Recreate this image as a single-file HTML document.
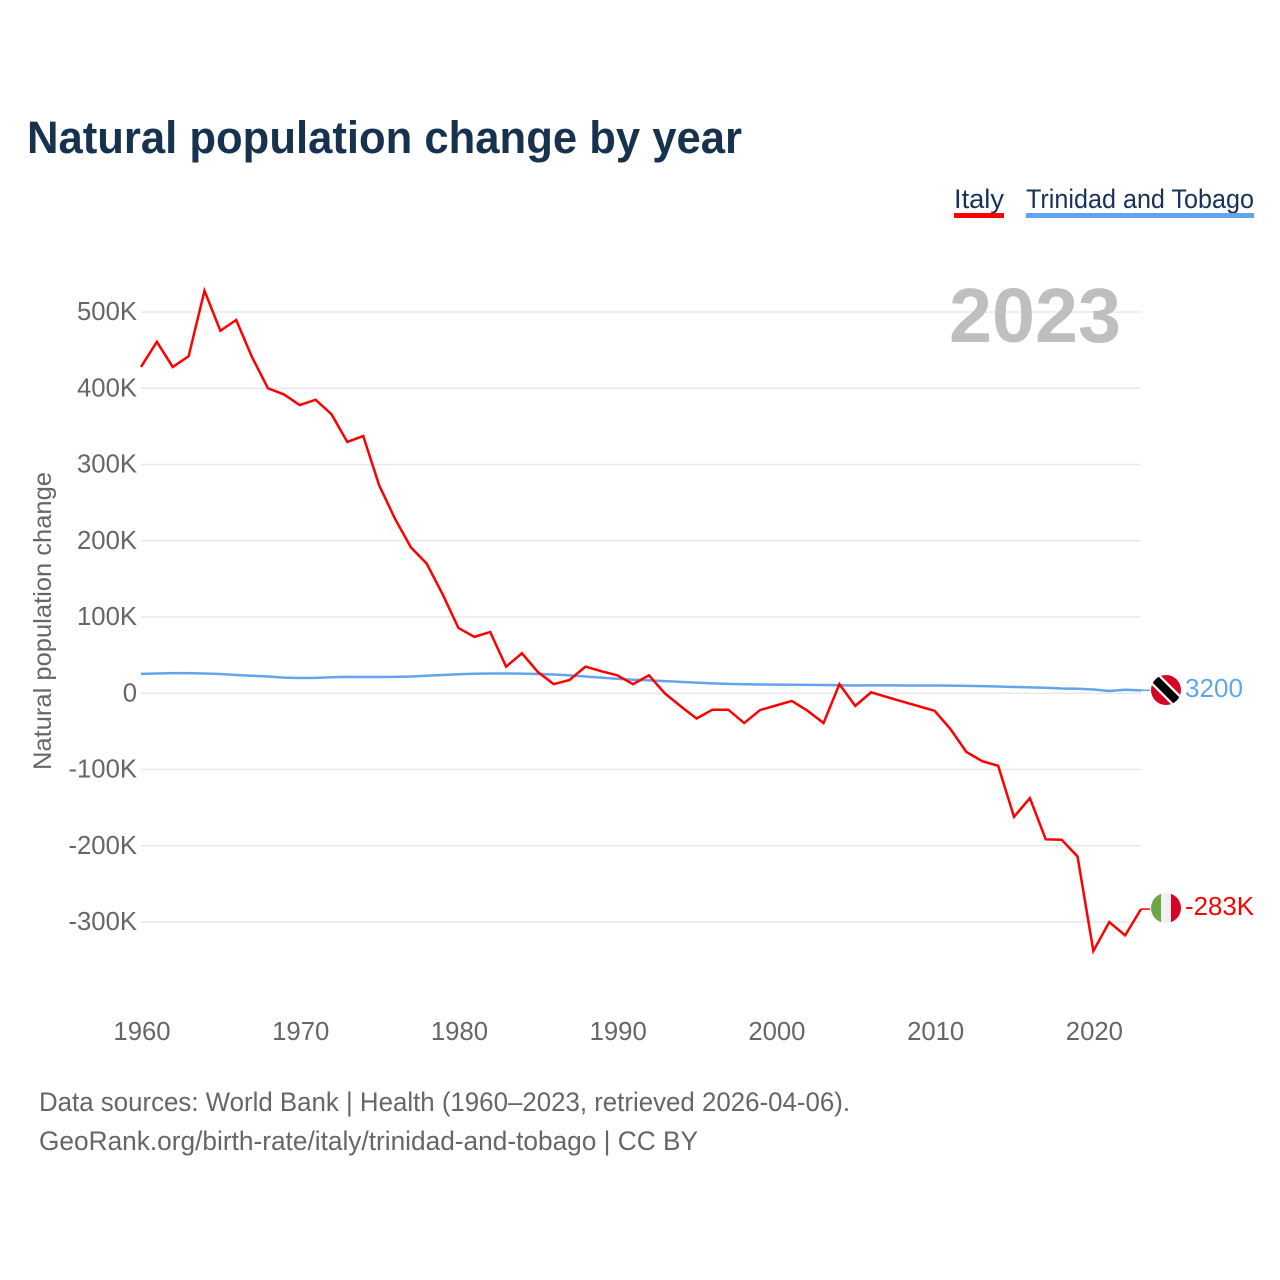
<!DOCTYPE html>
<html lang="en">
<head>
<meta charset="utf-8">
<title>Natural population change by year</title>
<style>
html,body{margin:0;padding:0;background:#fff;width:1280px;height:1280px;overflow:hidden}
svg{display:block;font-family:"Liberation Sans",sans-serif}
</style>
</head>
<body>
<svg id="chart" xmlns="http://www.w3.org/2000/svg" width="1280" height="1280" viewBox="0 0 1280 1280">
  <defs>
    <clipPath id="flag-clip-tt"><circle cx="1166" cy="690" r="15"/></clipPath>
    <clipPath id="flag-clip-it"><circle cx="1166" cy="908" r="15"/></clipPath>
  </defs>
  <text x="27" y="153" font-size="45" font-weight="700" fill="#17324f" textLength="715" lengthAdjust="spacingAndGlyphs">Natural population change by year</text>

  <g>
    <text x="954" y="208" font-size="26.5" fill="#17325a" textLength="50" lengthAdjust="spacingAndGlyphs">Italy</text>
    <rect x="954" y="213" width="50" height="5" fill="#ff0000"/>
  </g>
  <g>
    <text x="1026" y="208" font-size="26.5" fill="#17325a" textLength="228" lengthAdjust="spacingAndGlyphs">Trinidad and Tobago</text>
    <rect x="1026" y="213" width="228" height="5" fill="#63a5ec"/>
  </g>

  <g id="grid"></g>
  <g id="y-ticks"></g>
  <g id="x-ticks"></g>

  <text x="949" y="342" font-size="77" font-weight="700" fill="#bfbfbf" textLength="172" lengthAdjust="spacingAndGlyphs">2023</text>
  <text transform="translate(51,621) rotate(-90)" text-anchor="middle" font-size="25" fill="#666666" textLength="298" lengthAdjust="spacingAndGlyphs">Natural population change</text>

  <path id="line-tt" fill="none" stroke="#63a5ec" stroke-width="2.5" stroke-linejoin="round"></path>
  <path id="line-it" fill="none" stroke="#ff0000" stroke-width="2.5" stroke-linejoin="miter"></path>
  <line id="leader-tt" stroke="#63a5ec" stroke-width="1.5"></line>
  <line id="leader-it" stroke="#ff0000" stroke-width="1.5"></line>

  <g clip-path="url(#flag-clip-tt)">
    <rect x="1151" y="675" width="30" height="30" fill="#d80027"/>
    <line x1="1151" y1="675" x2="1181" y2="705" stroke="#ffffff" stroke-width="13"/>
    <line x1="1151" y1="675" x2="1181" y2="705" stroke="#000000" stroke-width="8.5"/>
  </g>
  <text id="label-tt" x="1185" y="697" font-size="25.5" fill="#63a5ec" textLength="58" lengthAdjust="spacingAndGlyphs">3200</text>

  <g clip-path="url(#flag-clip-it)">
    <rect x="1151" y="893" width="10" height="30" fill="#6da544"/>
    <rect x="1161" y="893" width="10" height="30" fill="#f0f0f0"/>
    <rect x="1171" y="893" width="10" height="30" fill="#d80027"/>
  </g>
  <text id="label-it" x="1185" y="915" font-size="25.5" fill="#ff0000" textLength="69" lengthAdjust="spacingAndGlyphs">-283K</text>

  <text x="39" y="1111" font-size="26.5" fill="#666666" textLength="811" lengthAdjust="spacingAndGlyphs">Data sources: World Bank | Health (1960–2023, retrieved 2026-04-06).</text>
  <text x="39" y="1150" font-size="26.5" fill="#666666" textLength="659" lengthAdjust="spacingAndGlyphs">GeoRank.org/birth-rate/italy/trinidad-and-tobago | CC BY</text>
</svg>
<script>
const startYear = 1960;
const yTickValues = [500000, 400000, 300000, 200000, 100000, 0, -100000, -200000, -300000];
const yTickLabels = ['500K', '400K', '300K', '200K', '100K', '0', '-100K', '-200K', '-300K'];
const xTickYears = [1960, 1970, 1980, 1990, 2000, 2010, 2020];
const italyValues = [
  428000, 461000, 428000, 442000, 528000, 475500, 489600, 440600, 400000, 392000,
  378000, 385000, 366000, 329600, 337400, 273000, 229000, 191500, 170000, 130000,
  85600, 74000, 80400, 35000, 52500, 28000, 12000, 17500, 35000, 29000,
  23600, 12000, 23600, 0, -17000, -33000, -21500, -21500, -39000, -22000,
  -16000, -10000, -23000, -39000, 12000, -16500, 1300, -5000, -11000, -17000,
  -23000, -47000, -77000, -89000, -95000, -162000, -137500, -191500, -192000, -214000,
  -338000, -300000, -317500, -283000
];
const trinidadValues = [
  25500, 26000, 26500, 26500, 26000, 25300, 24000, 23000, 22000, 20500,
  20000, 20300, 21000, 21500, 21300, 21300, 21500, 22000, 23000, 24000,
  25000, 25700, 26000, 26000, 25800, 25300, 24700, 23500, 22000, 20500,
  19000, 17800, 17000, 16000, 15000, 14000, 13000, 12300, 11800, 11500,
  11300, 11200, 11100, 10800, 10500, 10300, 10400, 10400, 10300, 10200,
  10200, 10000, 9800, 9400, 8900, 8300, 7800, 7200, 6300, 6000,
  5000, 3000, 4600, 3900
];

const SVG_NS = 'http://www.w3.org/2000/svg';
function xScale(year) { return 141 + (year - 1960) * (1000 / 63); }
function yScale(value) { return 693.3 - value * (76.25 / 100000); }
function linePath(values) {
  return values.map(function (v, i) {
    return (i ? 'L' : 'M') + xScale(startYear + i).toFixed(2) + ' ' + yScale(v).toFixed(2);
  }).join(' ');
}

const gridGroup = document.getElementById('grid');
const yGroup = document.getElementById('y-ticks');
const xGroup = document.getElementById('x-ticks');

yTickValues.forEach(function (v, i) {
  const gl = document.createElementNS(SVG_NS, 'line');
  
  
  gl.setAttribute('x1', 141);
  gl.setAttribute('x2', 1141);
  gl.setAttribute('y1', yScale(v));
  gl.setAttribute('y2', yScale(v));
  gl.setAttribute('stroke', '#e8e8e8');
  gl.setAttribute('stroke-width', '1.5');
  gridGroup.appendChild(gl);

  const t = document.createElementNS(SVG_NS, 'text');
  
  
  t.setAttribute('x', 137);
  t.setAttribute('y', yScale(v) + 8);
  t.setAttribute('text-anchor', 'end');
  t.setAttribute('font-size', '25.7');
  t.setAttribute('fill', '#666666');
  t.textContent = yTickLabels[i];
  yGroup.appendChild(t);
});

xTickYears.forEach(function (year) {
  const t = document.createElementNS(SVG_NS, 'text');
  
  
  t.setAttribute('x', xScale(year) + 1);
  t.setAttribute('y', 1040);
  t.setAttribute('text-anchor', 'middle');
  t.setAttribute('font-size', '25.7');
  t.setAttribute('fill', '#666666');
  t.textContent = String(year);
  xGroup.appendChild(t);
});

document.getElementById('line-it').setAttribute('d', linePath(italyValues));
document.getElementById('line-tt').setAttribute('d', linePath(trinidadValues));

function setLeader(id, value) {
  const l = document.getElementById(id);
  l.setAttribute('x1', xScale(2023));
  l.setAttribute('x2', 1150);
  l.setAttribute('y1', yScale(value));
  l.setAttribute('y2', yScale(value));
}
setLeader('leader-it', italyValues[italyValues.length - 1]);
setLeader('leader-tt', trinidadValues[trinidadValues.length - 1]);
</script>
</body>
</html>
